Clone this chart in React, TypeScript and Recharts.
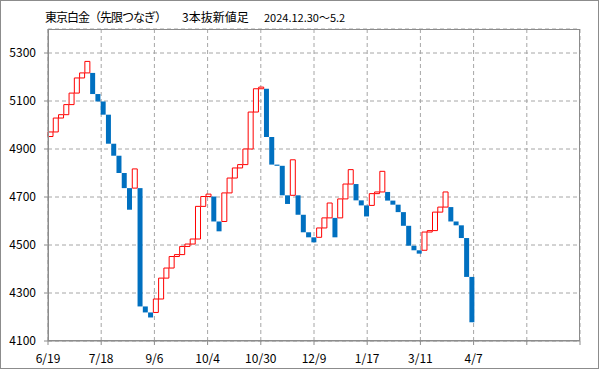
import { ComposedChart, Bar, Cell, XAxis, YAxis, CartesianGrid } from 'recharts'

const FONT = '"Noto Sans CJK JP", "Noto Sans", sans-serif'
const BLUE = '#0070c0'
const RED = '#ff0000'
const GRID = '#a6a6a6'
const AXIS = '#8c8c8c'

// x axis labels, one every 10 bricks
const xLabels = ['6/19', '7/18', '9/6', '10/4', '10/30', '12/9', '1/17', '3/11', '4/7']
const yTicks = [4100, 4300, 4500, 4700, 4900, 5100, 5300]

// brick open / close
const opens = [
  4952, 4971, 5029, 5043, 5085, 5133, 5196, 5217, 5217, 5129,
  5098, 5043, 4922, 4872, 4800, 4737, 4737, 4737, 4244, 4219,
  4219, 4275, 4362, 4404, 4452, 4460, 4494, 4504, 4525, 4661,
  4702, 4702, 4598, 4598, 4717, 4779, 4821, 4835, 4900, 5054,
  5151, 5151, 4950, 4835, 4830, 4707, 4707, 4707, 4626, 4553,
  4532, 4532, 4571, 4613, 4613, 4613, 4692, 4754, 4754, 4686,
  4665, 4665, 4714, 4721, 4721, 4685, 4668, 4637, 4580, 4497,
  4478, 4478, 4554, 4560, 4637, 4658, 4658, 4598, 4582, 4529,
  4367,
]
const closes = [
  4971, 5029, 5043, 5085, 5133, 5196, 5217, 5265, 5129, 5098,
  5043, 4922, 4872, 4800, 4737, 4647, 4817, 4244, 4219, 4198,
  4275, 4362, 4404, 4452, 4460, 4494, 4504, 4525, 4661, 4702,
  4712, 4598, 4557, 4717, 4779, 4821, 4835, 4900, 5054, 5151,
  5158, 4950, 4835, 4830, 4707, 4671, 4855, 4626, 4553, 4532,
  4511, 4571, 4613, 4675, 4532, 4692, 4754, 4814, 4686, 4665,
  4619, 4714, 4721, 4807, 4685, 4668, 4637, 4580, 4497, 4478,
  4464, 4554, 4560, 4637, 4658, 4721, 4598, 4582, 4529, 4367,
  4178,
]
const SLOTS = 101

const data = Array.from({ length: SLOTS }, (_, i) => {
  if (i >= opens.length) return { i, range: null, up: false }
  const o = opens[i], c = closes[i]
  return { i, range: [Math.min(o, c), Math.max(o, c)], up: c > o }
})

export default function App() {
  return (
    <div style={{ position: 'absolute', left: 0, top: 0, width: 599, height: 369, background: '#fff', fontFamily: FONT }}>
      <div style={{ position: 'absolute', left: 45, top: 11, fontSize: 12, lineHeight: '12px', letterSpacing: -1, whiteSpace: 'nowrap' }}>
        東京白金（先限つなぎ）
      </div>
      <div style={{ position: 'absolute', left: 182, top: 11, fontSize: 12, lineHeight: '12px', whiteSpace: 'nowrap' }}>
        3本抜新値足
      </div>
      <div style={{ position: 'absolute', left: 264, top: 12, fontSize: 11, lineHeight: '11px', whiteSpace: 'nowrap' }}>
        2024.12.30～5.2
      </div>
      <ComposedChart
        width={599}
        height={369}
        data={data}
        margin={{ top: 29, right: 19, left: 0, bottom: 0 }}
        barCategoryGap={0}
        barGap={0}
        style={{ position: 'absolute', left: 0, top: 0 }}
      >
        <CartesianGrid xAxisId="num" stroke={GRID} strokeDasharray="4 3" />
        <XAxis xAxisId="cat" dataKey="i" type="category" orientation="top" height={0} hide />
        <XAxis
          xAxisId="num"
          type="number"
          domain={[0, SLOTS]}
          ticks={[0, 10, 20, 30, 40, 50, 60, 70, 80, 90, 100]}
          interval={0}
          allowDataOverflow
          tickFormatter={(v: number) => xLabels[v / 10] ?? ''}
          height={28}
          tickSize={4}
          tickMargin={9}
          stroke={AXIS}
          tick={{ fill: '#000', fontSize: 12, fontFamily: FONT }}
        />
        <YAxis
          domain={[4100, 5400]}
          ticks={yTicks}
          interval={0}
          allowDataOverflow
          width={48}
          tickSize={4}
          tickMargin={8}
          stroke={AXIS}
          tick={{ fill: '#000', fontSize: 12, fontFamily: FONT }}
        />
        <Bar xAxisId="cat" dataKey="range" isAnimationActive={false}>
          {data.map((d) => (
            <Cell
              key={d.i}
              fill={d.up ? '#fff' : BLUE}
              stroke={d.up ? RED : BLUE}
              strokeWidth={d.up ? 1 : 0}
            />
          ))}
        </Bar>
      </ComposedChart>
      {/* plot area frame and chart border */}
      <div style={{ position: 'absolute', left: 48, top: 29, width: 532, height: 312, boxSizing: 'border-box', border: `1px solid ${AXIS}`, pointerEvents: 'none' }} />
      <div style={{ position: 'absolute', left: 0, top: 0, width: 599, height: 369, boxSizing: 'border-box', border: `1px solid ${AXIS}`, pointerEvents: 'none' }} />
    </div>
  )
}
